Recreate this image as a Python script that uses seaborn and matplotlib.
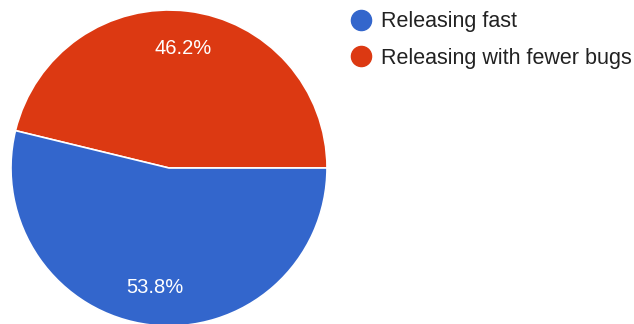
import matplotlib
matplotlib.use("Agg")
import matplotlib.pyplot as plt
from matplotlib.lines import Line2D
import seaborn as sns

# Survey answers and their shares (percent)
categories = ["Releasing fast", "Releasing with fewer bugs"]
shares = [53.8, 46.2]
colors_hex = ["#3366CC", "#DC3912"]

sns.set_theme(style="white")
plt.rcParams["font.family"] = ["Liberation Sans", "DejaVu Sans"]
palette = sns.color_palette(colors_hex)

fig = plt.figure(figsize=(6.34, 3.24), dpi=100)
ax = fig.add_axes([0.01735, -0.00617, 0.4984, 0.9753])

# Red slice runs counter-clockwise from 3 o'clock, blue fills the rest
order = [1, 0]
wedges, texts, autotexts = ax.pie(
    [shares[i] for i in order],
    colors=[palette[i] for i in order],
    startangle=0,
    counterclock=True,
    autopct=lambda p: f"{p:.1f}%",
    pctdistance=0.76,
    radius=1.0,
    wedgeprops=dict(edgecolor="white", linewidth=1.2),
    textprops=dict(color="white", fontsize=14.5),
)
ax.set_xlim(-1, 1)
ax.set_ylim(-1, 1)
ax.set_aspect("equal")
ax.axis("off")

handles = [
    Line2D([0], [0], marker="o", linestyle="none", markersize=14.5,
           markerfacecolor=palette[i], markeredgecolor=palette[i])
    for i in range(len(categories))
]
fig.legend(
    handles, categories,
    loc="upper left", bbox_to_anchor=(0.52, 1.025),
    frameon=False, fontsize=15.5, labelcolor="#222222",
    handletextpad=0.4, labelspacing=0.72, handlelength=1.1,
)

fig.savefig("out.png", dpi=100)
